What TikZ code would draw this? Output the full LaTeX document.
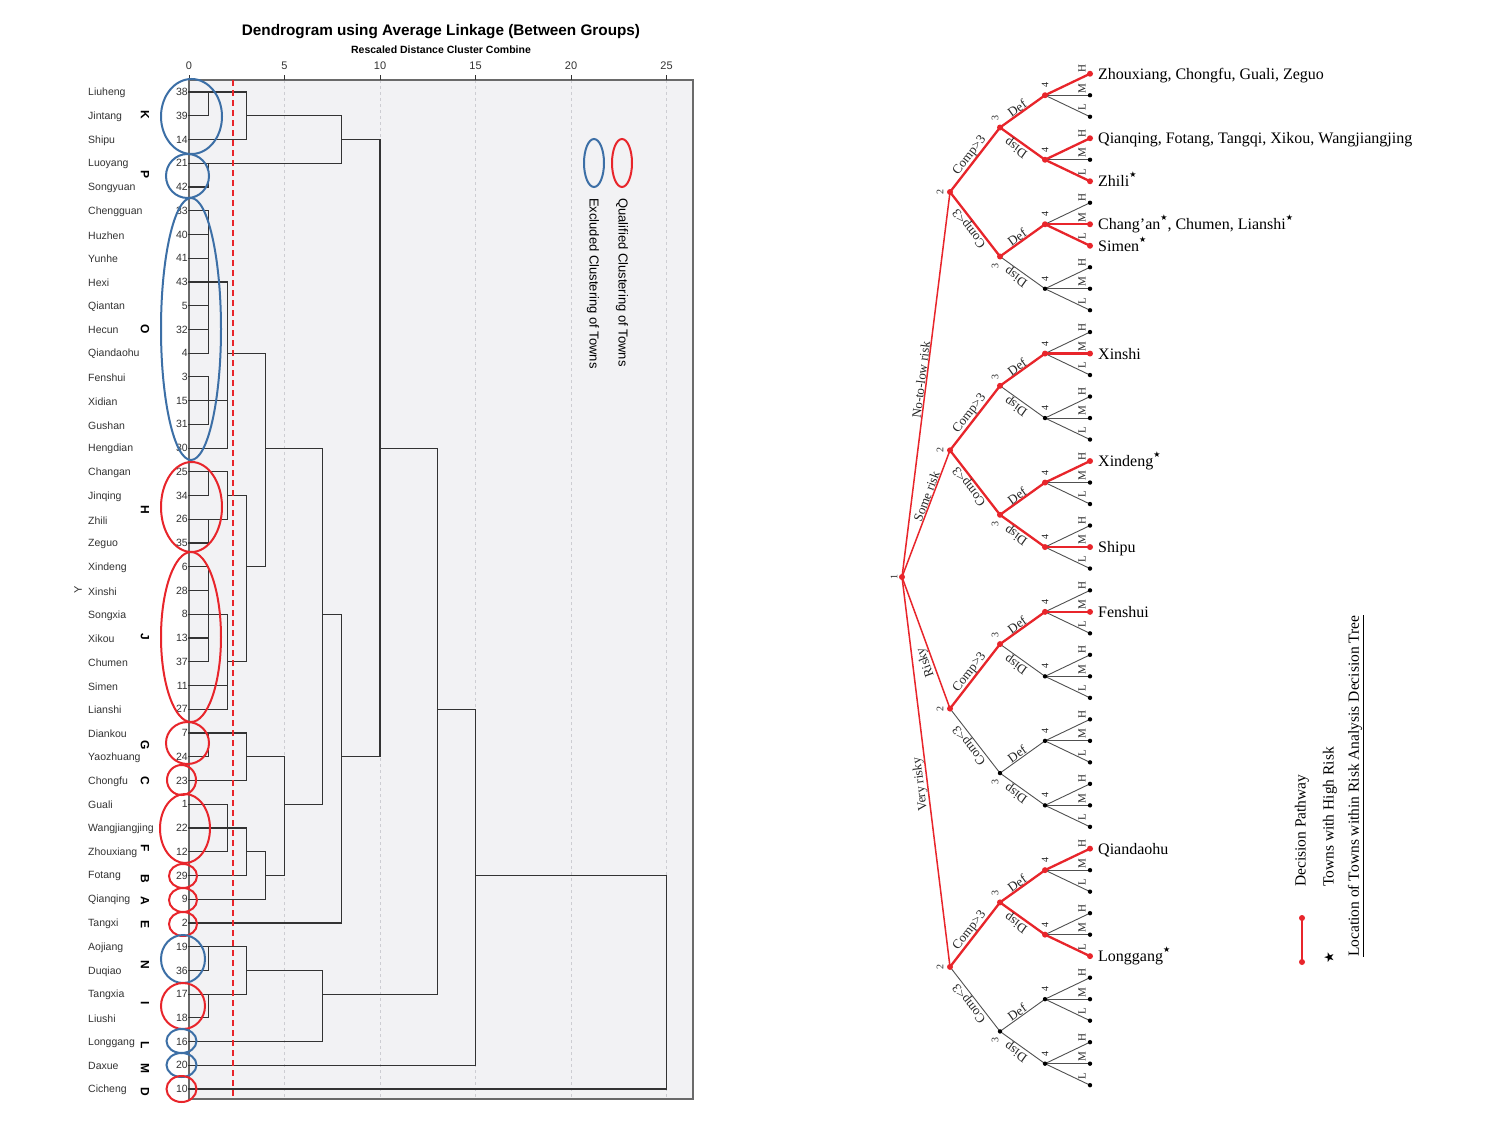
\documentclass[tikz,border=0pt]{standalone}
\usepackage{fontspec}
\setmainfont{Liberation Serif}
\newfontfamily\arialf{Liberation Sans}
\newfontfamily\djv{DejaVu Sans}
\usetikzlibrary{calc}
\definecolor{dgray}{HTML}{333333}
\definecolor{bgg}{HTML}{F2F2F4}
\definecolor{gridg}{HTML}{CDCDD2}
\definecolor{framec}{HTML}{6A6A6A}
\definecolor{myred}{HTML}{E8252B}
\definecolor{myblue}{HTML}{3C6FA6}
\definecolor{treegray}{HTML}{505050}
\newcommand\hstar{\raisebox{0.55em}{\djv\fontsize{8}{8}\selectfont ★}}
\tikzset{
  dline/.style={draw=dgray, line width=1.2pt, line cap=rect},
  gedge/.style={draw=treegray, line width=0.9pt},
  redpath/.style={draw=myred, line width=2.3pt},
  redroot/.style={draw=myred, line width=1.5pt},
  bdot/.style={fill=black},
  rdot/.style={fill=myred},
  elab/.style={font=\fontsize{13}{14}\selectfont, text=black!85, inner sep=0.8pt},
  dlab/.style={font=\fontsize{10}{11}\selectfont, text=black!85, inner sep=0pt, rotate=90},
  hml/.style={font=\fontsize{11}{12}\selectfont, text=black!85, inner sep=0pt, rotate=90},
  town/.style={font=\fontsize{16}{18}\selectfont, anchor=base west, inner sep=0pt},
  legtxt/.style={font=\fontsize{15.5}{17}\selectfont, rotate=90, anchor=west, inner sep=0pt},
  rowlab/.style={font=\arialf\fontsize{10.5}{12}\selectfont, text=dgray, inner sep=0pt},
  grplab/.style={font=\arialf\bfseries\fontsize{12}{13}\selectfont, rotate=-90, inner sep=0pt},
  clu/.style={line width=2pt},
}
\begin{document}
\begin{tikzpicture}[x=1pt,y=-1pt]
\useasboundingbox (0,0) rectangle (1500,1132);
\fill[white] (0,0) rectangle (1500,1132);

% ================= DENDROGRAM =================
\node[font=\arialf\bfseries\fontsize{15.3}{18}\selectfont] (title) at (441,32) {Dendrogram using Average Linkage (Between Groups)};
\node[font=\arialf\bfseries\fontsize{10.5}{12}\selectfont] (subtitle) at (441,50) {Rescaled Distance Cluster Combine};

\fill[bgg] (189,80) rectangle (693,1099);
\foreach \d in {5,10,15,20,25}
  \draw[gridg, dashed, line width=0.8pt] ({189+19.1*\d},80) -- ({189+19.1*\d},1099);
\draw[framec, line width=1.3pt] (189,80) rectangle (693,1099);
\foreach \d in {0,5,10,15,20,25} {
  \draw[dgray, line width=0.8pt] ({189+19.1*\d},80) -- ({189+19.1*\d},75);
  \node[font=\arialf\fontsize{11}{12}\selectfont, text=dgray] at ({189+19.1*\d},66) {\d};
}

\foreach \nm [count=\i from 0] in {Liuheng,Jintang,Shipu,Luoyang,Songyuan,Chengguan,Huzhen,Yunhe,Hexi,Qiantan,Hecun,Qiandaohu,Fenshui,Xidian,Gushan,Hengdian,Changan,Jinqing,Zhili,Zeguo,Xindeng,Xinshi,Songxia,Xikou,Chumen,Simen,Lianshi,Diankou,Yaozhuang,Chongfu,Guali,Wangjiangjing,Zhouxiang,Fotang,Qianqing,Tangxi,Aojiang,Duqiao,Tangxia,Liushi,Longgang,Daxue,Cicheng}
  \node[rowlab, anchor=west] at (88,{93+23.74*\i}) {\nm};
\foreach \nn [count=\i from 0] in {38,39,14,21,42,33,40,41,43,5,32,4,3,15,31,30,25,34,26,35,6,28,8,13,37,11,27,7,24,23,1,22,12,29,9,2,19,36,17,18,16,20,10}
  \node[rowlab, anchor=east] at (188,{92+23.74*\i}) {\nn};

\node[font=\arialf\fontsize{11}{12}\selectfont, rotate=90, text=dgray] (ylab) at (78,590) {Y};

\begin{scope}[shift={(189pt,-92pt)}, x=19.1pt, y=-23.74pt]
  \foreach \r/\e in {0/3,1/1,2/3,3/8,4/1,5/1,6/1,7/1,8/2,9/1,10/1,11/1,12/1,13/2,14/1,15/2,16/2,17/1,18/2,19/1,20/1,21/1,22/2,23/1,24/1,25/2,26/2,27/3,28/1,29/3,30/2,31/3,32/2,33/3,34/4,35/8,36/3,37/1,38/3,39/1,40/7,41/15,42/25}
    \draw[dline] (0,\r) -- (\e,\r);
  \foreach \r/\a/\b in {1/3/8, 2/8/10, 11/2/4, 15/4/7, 15/10/13, 17/2/3, 20/3/4, 22/7/8, 24/2/3, 26/13/15, 28/3/5, 28/8/10, 30/5/7, 32/3/4, 33/4/5, 33/15/25, 37/3/7, 38/7/13}
    \draw[dline] (\a,\r) -- (\b,\r);
  \foreach \d/\a/\b in {1/0/1, 1/3/4, 1/5/11, 1/12/14, 1/16/17, 1/18/19, 1/20/24, 1/27/28, 1/36/37, 1/38/39, 2/8/15, 2/16/18, 2/22/26, 2/30/32, 3/0/2, 3/17/24, 3/27/29, 3/31/33, 3/36/38, 4/11/20, 4/32/34, 5/28/33, 7/15/30, 7/37/40, 8/1/3, 8/22/35, 10/2/28, 13/15/38, 15/26/41, 25/33/42}
    \draw[dline] (\d,\a) -- (\d,\b);
\end{scope}

\draw[myred, line width=2pt, dash pattern=on 6pt off 4pt] (233,80) -- (233,1096);

% cluster ellipses
\draw[myblue, clu] (191.5,116.5) ellipse [x radius=30.5, y radius=37.5];
\draw[myblue, clu] (187.5,176) ellipse [x radius=21.5, y radius=22];
\draw[myblue, clu] (191,329) ellipse [x radius=30, y radius=131];
\draw[myred, clu] (191.5,507) ellipse [x radius=30.5, y radius=45];
\draw[myred, clu] (191,637) ellipse [x radius=30, y radius=85];
\draw[myred, clu] (187.5,743) ellipse [x radius=21.5, y radius=21];
\draw[myred, clu] (181.5,780) ellipse [x radius=14.5, y radius=15];
\draw[myred, clu] (185,828.5) ellipse [x radius=25, y radius=34.5];
\draw[myred, clu] (183,876) ellipse [x radius=14, y radius=12];
\draw[myred, clu] (183,900) ellipse [x radius=14, y radius=12];
\draw[myred, clu] (183,924) ellipse [x radius=14, y radius=12];
\draw[myblue, clu] (183,959) ellipse [x radius=22, y radius=24];
\draw[myred, clu] (183,1006) ellipse [x radius=22, y radius=23];
\draw[myblue, clu] (181.5,1041) ellipse [x radius=15, y radius=12];
\draw[myblue, clu] (181.5,1065) ellipse [x radius=15, y radius=12];
\draw[myred, clu] (181.5,1089) ellipse [x radius=15, y radius=13];

% group letters
\foreach \lt/\yy in {K/115,P/175,O/329,H/510,J/637,G/745,C/781,F/848,B/879,A/901,E/924,N/965,I/1003,L/1045,M/1068,D/1092}
  \node[grplab] at (145,\yy) {\lt};

% legend of dendrogram
\draw[myred, clu] (622,163) ellipse [x radius=10, y radius=24];
\draw[myblue, clu] (594,163) ellipse [x radius=10, y radius=24];
\node[font=\arialf\fontsize{13}{14}\selectfont, rotate=-90, anchor=west, inner sep=0pt] (lq) at (622,198) {Qualified Clustering of Towns};
\node[font=\arialf\fontsize{13}{14}\selectfont, rotate=-90, anchor=west, inner sep=0pt] (le) at (593,198) {Excluded Clustering of Towns};

% ================= DECISION TREE =================
\coordinate (root) at (902,577);
\foreach \g in {0,...,3} {
  \pgfmathsetmacro\ytwo{192+258.3*\g}
  \coordinate (n2-\g) at (950,\ytwo);
  \foreach \k in {0,1} {
    \pgfmathsetmacro\ythree{\ytwo-64.5+129*\k}
    \coordinate (n3-\g-\k) at (1000,\ythree);
    \foreach \j in {0,1} {
      \pgfmathsetmacro\yfour{\ythree-32.25+64.5*\j}
      \coordinate (n4-\g-\k-\j) at (1045,\yfour);
      \foreach \i in {0,1,2} {
        \coordinate (lf-\g-\k-\j-\i) at (1090,{\yfour+21.5*(\i-1)});
      }
    }
  }
}

% gray edges
\foreach \g in {0,...,3} {
  \foreach \k in {0,1} {
    \draw[gedge] (n2-\g) -- (n3-\g-\k);
    \foreach \j in {0,1} {
      \draw[gedge] (n3-\g-\k) -- (n4-\g-\k-\j);
      \foreach \i in {0,1,2} \draw[gedge] (n4-\g-\k-\j) -- (lf-\g-\k-\j-\i);
    }
  }
}

% red pathways
\foreach \g in {0,...,3} \draw[redroot] (root) -- (n2-\g);
\foreach \a/\b in {n2-0/n3-0-0, n2-0/n3-0-1, n3-0-0/n4-0-0-0, n3-0-0/n4-0-0-1, n4-0-0-0/lf-0-0-0-0, n4-0-0-1/lf-0-0-1-0, n4-0-0-1/lf-0-0-1-2, n3-0-1/n4-0-1-0, n4-0-1-0/lf-0-1-0-1, n4-0-1-0/lf-0-1-0-2,
  n2-1/n3-1-0, n2-1/n3-1-1, n3-1-0/n4-1-0-0, n4-1-0-0/lf-1-0-0-1, n3-1-1/n4-1-1-0, n3-1-1/n4-1-1-1, n4-1-1-0/lf-1-1-0-0, n4-1-1-1/lf-1-1-1-1,
  n2-2/n3-2-0, n3-2-0/n4-2-0-0, n4-2-0-0/lf-2-0-0-1,
  n2-3/n3-3-0, n3-3-0/n4-3-0-0, n3-3-0/n4-3-0-1, n4-3-0-0/lf-3-0-0-0, n4-3-0-1/lf-3-0-1-2}
  \draw[redpath] (\a) -- (\b);

% black dots
\foreach \g in {0,...,3} {
  \foreach \k in {0,1} {
    \fill[bdot] (n3-\g-\k) circle (2.2);
    \foreach \j in {0,1} {
      \fill[bdot] (n4-\g-\k-\j) circle (2.2);
      \foreach \i in {0,1,2} \fill[bdot] (lf-\g-\k-\j-\i) circle (2.2);
    }
  }
}
% red dots
\foreach \p in {root, n2-0, n2-1, n2-2, n2-3, n3-0-0, n3-0-1, n4-0-0-0, n4-0-0-1, lf-0-0-0-0, lf-0-0-1-0, lf-0-0-1-2, n4-0-1-0, lf-0-1-0-1, lf-0-1-0-2,
  n3-1-0, n3-1-1, n4-1-0-0, lf-1-0-0-1, n4-1-1-0, n4-1-1-1, lf-1-1-0-0, lf-1-1-1-1,
  n3-2-0, n4-2-0-0, lf-2-0-0-1, n3-3-0, n4-3-0-0, n4-3-0-1, lf-3-0-0-0, lf-3-0-1-2}
  \fill[rdot] (\p) circle (3);

% edge labels
\path (root) -- node[elab, sloped, above, pos=0.51] {No-to-low risk} (n2-0);
\path (root) -- node[elab, sloped, above, pos=0.62] {Some risk} (n2-1);
\path (n2-2) -- node[elab, sloped, above, allow upside down, pos=0.37] {Risky} (root);
\path (n2-3) -- node[elab, sloped, above, allow upside down, pos=0.47] {Very risky} (root);
\foreach \g in {0,...,3} {
  \path (n2-\g) -- node[elab, sloped, above] {Comp>3} (n3-\g-0);
  \path (n3-\g-1) -- node[elab, sloped, above, allow upside down] {Comp<3} (n2-\g);
  \node[dlab] at ($(n2-\g)+(-10,0)$) {2};
  \node[dlab] at ($(n3-\g-0)+(-5,-9)$) {3};
  \node[dlab] at ($(n3-\g-1)+(-5,9)$) {3};
  \foreach \k in {0,1} {
    \path (n3-\g-\k) -- node[elab, sloped, above, pos=0.45] {Def} (n4-\g-\k-0);
    \path (n4-\g-\k-1) -- node[elab, sloped, above, allow upside down, pos=0.55] {Disp} (n3-\g-\k);
    \foreach \j in {0,1} {
      \node[dlab] at ($(n4-\g-\k-\j)+(0,-10)$) {4};
      \node[hml] at ($(lf-\g-\k-\j-0)+(-8,-5)$) {H};
      \node[hml] at ($(lf-\g-\k-\j-1)+(-8,-7)$) {M};
      \node[hml] at ($(lf-\g-\k-\j-2)+(-8,-9.5)$) {L};
    }
  }
}
\node[dlab] at ($(root)+(-8,0)$) {1};

% town labels
\node[town] at ($(lf-0-0-0-0)+(8,5.5)$) {Zhouxiang, Chongfu, Guali, Zeguo};
\node[town] at ($(lf-0-0-1-0)+(8,5.5)$) {Qianqing, Fotang, Tangqi, Xikou, Wangjiangjing};
\node[town] at ($(lf-0-0-1-2)+(8,5.5)$) {Zhili\hstar};
\node[town] at ($(lf-0-1-0-1)+(8,5.5)$) {Chang’an\hstar, Chumen, Lianshi\hstar};
\node[town] at ($(lf-0-1-0-2)+(8,5.5)$) {Simen\hstar};
\node[town] at ($(lf-1-0-0-1)+(8,5.5)$) {Xinshi};
\node[town] at ($(lf-1-1-0-0)+(8,5.5)$) {Xindeng\hstar};
\node[town] at ($(lf-1-1-1-1)+(8,5.5)$) {Shipu};
\node[town] at ($(lf-2-0-0-1)+(8,5.5)$) {Fenshui};
\node[town] at ($(lf-3-0-0-0)+(8,5.5)$) {Qiandaohu};
\node[town] at ($(lf-3-0-1-2)+(8,5.5)$) {Longgang\hstar};

% legend of tree
\coordinate (lgA) at (1302,918);
\coordinate (lgB) at (1302,962);
\draw[redpath] (lgA) -- (lgB);
\fill[rdot] (lgA) circle (3);
\fill[rdot] (lgB) circle (3);
\node[legtxt] (lg1) at (1302,887) {Decision Pathway};
\node[font=\djv\fontsize{13}{13}\selectfont, rotate=90, inner sep=0pt] (lgs) at (1329,958) {★};
\node[legtxt] (lg2) at (1330,887) {Towns with High Risk};
\node[legtxt] (lg3) at (1356,957) {\underline{Location of Towns within Risk Analysis Decision Tree}};
\end{tikzpicture}
\end{document}
